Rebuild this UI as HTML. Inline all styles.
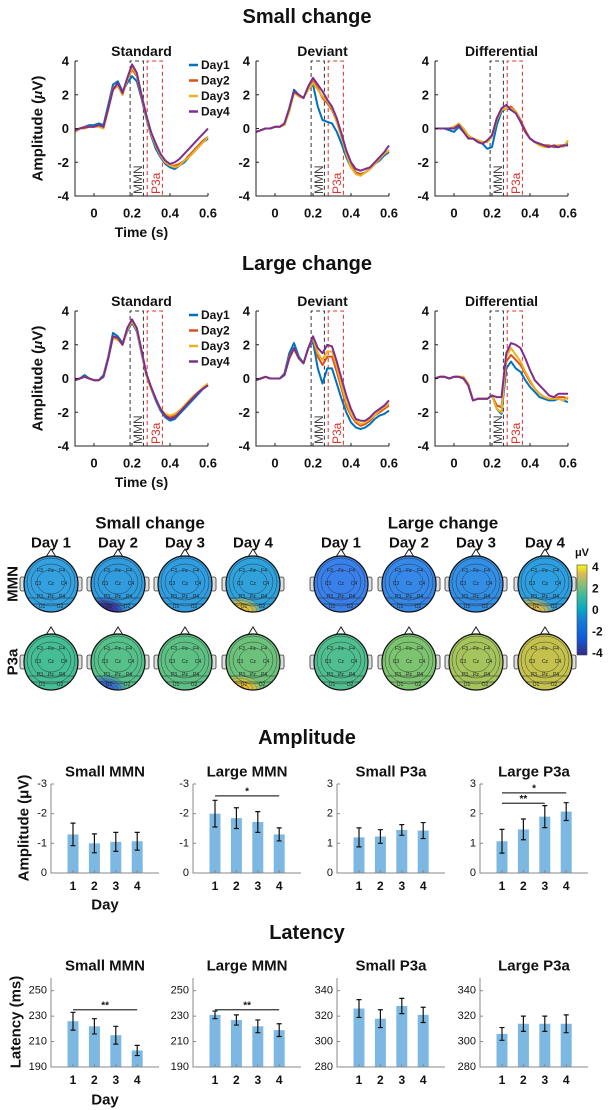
<!DOCTYPE html>
<html><head><meta charset="utf-8"><style>
html,body{margin:0;padding:0;background:#fff;}
svg{display:block;font-family:"Liberation Sans",Arial,sans-serif;}
</style></head><body>
<svg id="fig" xmlns="http://www.w3.org/2000/svg" width="614" height="1110" viewBox="0 0 614 1110">
<defs>
<linearGradient id="parula" x1="0" y1="1" x2="0" y2="0">
<stop offset="0" stop-color="#352a87"/><stop offset="0.2" stop-color="#0f5cdd"/>
<stop offset="0.4" stop-color="#1481d6"/><stop offset="0.5" stop-color="#06a7c6"/>
<stop offset="0.65" stop-color="#38b99e"/><stop offset="0.8" stop-color="#92bf73"/>
<stop offset="0.9" stop-color="#d9ba56"/><stop offset="1" stop-color="#f9fb0e"/>
</linearGradient>
</defs>
</svg>
<script>
// ---------- ERP data (t = -0.1 .. 0.6 step 0.025) ----------
const erpTimes = [-0.1,-0.075,-0.05,-0.025,0,0.025,0.05,0.075,0.1,0.125,0.15,0.175,0.2,0.225,0.25,0.275,0.3,0.325,0.35,0.375,0.4,0.425,0.45,0.475,0.5,0.525,0.55,0.575,0.6];
const dayNames = ["Day1","Day2","Day3","Day4"];
const smallStd = [
[-0.2,0,0.1,0.2,0.2,0.3,0.2,1.4,2.6,2.8,2.2,2.7,3.1,2.8,1.8,0.6,-0.4,-1.2,-1.7,-2.1,-2.3,-2.4,-2.2,-2.0,-1.7,-1.4,-1.1,-0.8,-0.6],
[-0.2,0,0.1,0.1,0.1,0.2,0.1,1.2,2.4,2.6,2.0,2.9,3.5,3.1,1.9,0.7,-0.3,-1.0,-1.6,-2.0,-2.2,-2.2,-2.1,-1.9,-1.6,-1.3,-1.0,-0.7,-0.5],
[-0.2,0,0,0.1,0.1,0.1,0,1.1,2.3,2.5,2.0,2.9,3.6,3.2,2.0,0.7,-0.3,-1.0,-1.6,-2.0,-2.2,-2.3,-2.2,-1.9,-1.7,-1.4,-1.1,-0.8,-0.5],
[-0.1,0,0.05,0.1,0.1,0.2,0.1,1.2,2.3,2.7,2.1,3.0,3.8,3.3,2.0,0.8,-0.2,-0.9,-1.5,-1.9,-2.1,-2.0,-1.8,-1.5,-1.2,-0.9,-0.6,-0.3,0.0]];
const smallDev = [
[-0.2,-0.1,0,0,0.1,0.1,0.3,1.2,2.3,2.0,1.8,2.4,2.6,1.3,0.5,0.4,0.3,-0.2,-0.9,-1.7,-2.3,-2.6,-2.7,-2.6,-2.4,-2.1,-1.9,-1.6,-1.4],
[-0.2,-0.1,0,0,0.1,0.1,0.3,1.1,2.2,2.0,1.8,2.4,2.8,2.4,1.8,1.5,1.1,0.4,-0.5,-1.5,-2.2,-2.6,-2.7,-2.6,-2.4,-2.1,-1.8,-1.5,-1.3],
[-0.2,-0.1,0,0,0.1,0.1,0.2,1.0,2.1,1.9,1.8,2.3,2.7,2.3,1.9,1.6,1.2,0.4,-0.5,-1.5,-2.3,-2.7,-2.8,-2.6,-2.4,-2.1,-1.8,-1.5,-1.3],
[-0.2,-0.1,0,0,0.1,0.1,0.3,1.2,2.2,2.0,1.8,2.5,3.0,2.6,2.2,1.7,1.3,0.6,-0.3,-1.3,-2.0,-2.4,-2.5,-2.4,-2.3,-2.0,-1.7,-1.4,-1.0]];
const smallDiff = [
[0,0,0,-0.1,-0.2,0.1,-0.2,-0.5,-0.6,-0.8,-0.9,-1.2,-1.1,0.2,1.0,1.2,1.1,1.0,0.5,-0.2,-0.6,-0.8,-0.9,-1.0,-1.0,-1.1,-1.1,-1.0,-0.9],
[0,0,0,0,0.1,0.2,-0.1,-0.5,-0.6,-0.7,-0.8,-0.8,-0.4,0.6,1.1,1.2,1.3,1.0,0.5,-0.1,-0.6,-0.8,-0.9,-1.0,-1.0,-1.1,-1.0,-1.0,-1.0],
[0,0,0,0,0.1,0.3,0,-0.4,-0.6,-0.7,-0.8,-0.8,-0.5,0.5,1.1,1.2,1.2,1.0,0.4,-0.2,-0.6,-0.8,-1.0,-1.1,-1.1,-1.0,-1.0,-1.1,-0.7],
[0,0,0,0,0,0.2,-0.2,-0.6,-0.6,-0.8,-0.9,-0.7,-0.4,0.6,1.2,1.4,1.1,0.9,0.4,-0.2,-0.6,-0.8,-0.9,-1.0,-1.1,-1.0,-1.1,-1.0,-1.0]];
const largeStd = [
[-0.1,0,0.2,0,-0.1,-0.1,0.2,1.3,2.7,2.5,2.1,2.8,3.3,2.8,1.5,0.2,-0.6,-1.3,-1.9,-2.3,-2.5,-2.4,-2.1,-1.8,-1.5,-1.2,-0.9,-0.6,-0.4],
[-0.1,0,0.1,0,-0.1,-0.1,0.1,1.2,2.5,2.4,2.0,2.9,3.4,2.9,1.6,0.3,-0.5,-1.2,-1.8,-2.2,-2.3,-2.2,-2.0,-1.7,-1.4,-1.1,-0.8,-0.6,-0.4],
[-0.1,0,0.1,0,-0.1,-0.1,0.1,1.2,2.4,2.3,2.0,2.9,3.4,2.9,1.6,0.2,-0.6,-1.2,-1.8,-2.1,-2.2,-2.1,-1.9,-1.6,-1.3,-1.0,-0.8,-0.5,-0.3],
[-0.1,0,0.1,0,-0.1,-0.1,0.1,1.2,2.5,2.4,2.0,3.0,3.5,3.0,1.7,0.3,-0.5,-1.2,-1.8,-2.2,-2.4,-2.3,-2.0,-1.7,-1.4,-1.1,-0.8,-0.6,-0.4]];
const largeDev = [
[-0.1,0,0.1,0,0,0,0.3,1.5,2.1,1.3,0.9,1.8,2.2,0.6,-0.3,0.6,0.6,-0.3,-1.2,-2.0,-2.6,-2.9,-3.0,-2.9,-2.7,-2.4,-2.2,-2.1,-1.9],
[-0.1,0,0.1,0,0,0,0.2,1.3,1.8,1.2,0.9,1.8,2.4,1.3,0.8,1.3,1.3,0.4,-0.6,-1.6,-2.2,-2.6,-2.8,-2.7,-2.5,-2.2,-2.0,-1.8,-1.6],
[-0.1,0,0.1,0,0,0,0.2,1.2,1.7,1.2,0.9,1.8,2.4,1.5,1.1,1.6,1.6,0.7,-0.4,-1.4,-2.1,-2.5,-2.7,-2.6,-2.4,-2.2,-1.9,-1.7,-1.5],
[-0.1,0,0.1,0,0,0,0.2,1.2,1.8,1.2,0.9,1.8,2.5,1.8,1.5,2.0,1.9,1.0,0.0,-1.0,-1.8,-2.4,-2.5,-2.5,-2.3,-2.0,-1.8,-1.6,-1.3]];
const largeDiff = [
[0,0.1,0.1,0,0.1,0.1,0,-0.4,-1.3,-1.2,-1.2,-1.2,-1.0,-1.8,-2.1,0.6,1.0,0.6,0.4,-0.1,-0.5,-0.8,-1.1,-1.2,-1.3,-1.3,-1.2,-1.3,-1.4],
[0,0.1,0.1,0,0.1,0.1,0,-0.4,-1.3,-1.2,-1.2,-1.2,-1.0,-1.6,-1.7,1.0,1.4,1.1,0.8,0.3,-0.2,-0.6,-0.9,-1.1,-1.2,-1.2,-1.1,-1.1,-1.2],
[0,0.1,0.1,0,0.1,0.1,0.1,-0.3,-1.3,-1.2,-1.2,-1.2,-1.0,-1.8,-2.0,1.3,1.8,1.4,1.0,0.4,-0.1,-0.6,-0.9,-1.1,-1.2,-1.2,-1.2,-1.3,-1.1],
[0,0.1,0.1,0,0.1,0.1,0,-0.4,-1.3,-1.2,-1.2,-1.2,-1.0,-1.1,-1.1,1.5,2.1,2.0,1.8,1.2,0.5,-0.1,-0.4,-0.7,-1.0,-1.1,-0.9,-0.9,-0.9]];
const erpXTicks = [0,0.2,0.4,0.6];
const erpYTicks = [-4,-2,0,2,4];
const mmnWindow = [0.19,0.26];
const p3aWindow = [0.28,0.36];

// ---------- Bar data ----------
const barDays = [1,2,3,4];
const ampSmallMMN = [-1.3,-1.0,-1.05,-1.07], ampSmallMMNErr = [0.38,0.32,0.32,0.3];
const ampLargeMMN = [-2.0,-1.85,-1.72,-1.3], ampLargeMMNErr = [0.45,0.35,0.35,0.22];
const ampSmallP3a = [1.2,1.23,1.45,1.43], ampSmallP3aErr = [0.32,0.23,0.18,0.27];
const ampLargeP3a = [1.07,1.47,1.9,2.07], ampLargeP3aErr = [0.4,0.35,0.37,0.3];
const latSmallMMN = [226,222,215,203], latSmallMMNErr = [7,6,7,4];
const latLargeMMN = [231,227,222,219], latLargeMMNErr = [3,4,5,5];
const latSmallP3a = [326,318,328,321], latSmallP3aErr = [7,7,6,6];
const latLargeP3a = [306,314,314,314], latLargeP3aErr = [5,6,6,7];
const ampMMNTicks = [0,-1,-2,-3], ampP3aTicks = [0,1,2,3];
const latMMNTicks = [190,210,230,250], latP3aTicks = [280,300,320,340];

const NS = "http://www.w3.org/2000/svg";
const svg = document.getElementById('fig');
function mk(tag, attrs, parent){const e=document.createElementNS(NS,tag);for(const k in attrs)e.setAttribute(k,attrs[k]);(parent||svg).appendChild(e);return e;}
function txt(x,y,s,size,opts,parent){opts=opts||{};const e=mk('text',{x:x,y:y,'font-size':size,'font-weight':opts.w||'bold','text-anchor':opts.a||'middle','dominant-baseline':'central',fill:opts.fill||'#111'},parent);if(opts.rot)e.setAttribute('transform','rotate('+opts.rot+' '+x+' '+y+')');e.textContent=s;return e;}
const dayColors = ["#0072BD","#D95319","#EDB120","#7E2F8E"];

// section titles
let t;
t=txt(307,17,"Small change",20);  
t=txt(307,264,"Large change",20);  

function erpPanel(L, top, title, data, name, showY, legend){
  const g = mk('g',{});
  
  
  const xs = v => L + (v+0.1)*190;
  const ys = v => top + (4-v)*16.875;
  const bottom = ys(-4), right = xs(0.6);
  t=txt((L+right)/2, top-10, title, 14, {}, g);
   
  // windows
  [[mmnWindow,'#333','MMN','#444'],[p3aWindow,'#e0302a','P3a','#e0302a']].forEach(w=>{
    const x0=xs(w[0][0]), x1=xs(w[0][1]);
    const p=mk('path',{d:`M${x0},${bottom} V${top} H${x1} V${bottom}`,fill:'none',stroke:w[1],'stroke-width':1,'stroke-dasharray':'4,3'},g);
    
    
    const lt=txt((x0+x1)/2+1, bottom-2, w[2], 12, {w:'normal',a:'start',rot:-90,fill:w[3]}, g);
    
    
  });
  // series
  data.forEach((s,di)=>{
    const d = s.map((v,i)=>(i?'L':'M')+xs(erpTimes[i]).toFixed(1)+','+ys(v).toFixed(1)).join(' ');
    const p = mk('path',{d:d,fill:'none',stroke:dayColors[di],'stroke-width':2,'stroke-linejoin':'round'},g);
    
    
  });
  // axes
  const ax = mk('path',{d:`M${L},${top} V${bottom} H${right}`,fill:'none',stroke:'#222','stroke-width':1},g);
   
  erpXTicks.forEach(v=>{
    mk('line',{x1:xs(v),x2:xs(v),y1:bottom,y2:bottom-3,stroke:'#222'},g);
    const tl=txt(xs(v), bottom+17, String(v), 13, {}, g);
     
  });
  erpYTicks.forEach(v=>{
    mk('line',{x1:L,x2:L+3,y1:ys(v),y2:ys(v),stroke:'#222'},g);
    const tl=txt(L-6, ys(v), String(v), 13, {a:'end'}, g);
     
  });
  if(showY){
    const yl = mk('text',{x:38,y:ys(0),'font-size':15,'font-weight':'bold','text-anchor':'middle','dominant-baseline':'central',transform:`rotate(-90 38 ${ys(0)})`,fill:'#111'},g);
    yl.innerHTML = 'Amplitude (<tspan font-style="italic" font-family="Liberation Serif">μ</tspan>V)';
     
    const xl = txt((L+right)/2, bottom+36, 'Time (s)', 14, {}, g);
     
  }
  if(legend){
    dayNames.forEach((n,i)=>{
      const y = top+4+i*15.5;
      mk('line',{x1:189,x2:198,y1:y,y2:y,stroke:dayColors[i],'stroke-width':2.5},g);
      const lt=txt(201,y,n,12,{a:'start'},g);
       
    });
  }
}
erpPanel(75,61,'Standard',smallStd,'small-standard-panel',true,true);
erpPanel(256,61,'Deviant',smallDev,'small-deviant-panel',false,false);
erpPanel(435,61,'Differential',smallDiff,'small-differential-panel',false,false);
erpPanel(75,311,'Standard',largeStd,'large-standard-panel',true,true);
erpPanel(256,311,'Deviant',largeDev,'large-deviant-panel',false,false);
erpPanel(435,311,'Differential',largeDiff,'large-differential-panel',false,false);

// ---------- Topomaps ----------
t=txt(150,523,'Small change',17);  
t=txt(443,523,'Large change',17);  
const topoX = [51,118,185,253,341,409,476,545];
const topoFill = [["#33a0df","#309bdd","#2f9de0","#2fa2dc","#3a80ea","#3688e8","#338fe5","#2d9ee0"],
                  ["#45bd95","#55c08a","#5ec184","#6cc27b","#50bf90","#7cc46f","#a5c45c","#c4c24c"]];
const topoBlob = {"0-1":"#3b2ea0","1-1":"#3568d8","0-3":"#f2c52c","1-3":"#efc030","0-7":"#e8c040"};
const rowY = [584,662];
["MMN","P3a"].forEach((r,ri)=>{
  t=txt(13,rowY[ri],r,15,{rot:-90});  
});
topoX.forEach((cx,i)=>{
  const lab = txt(cx,543,'Day '+((i%4)+1),15);
   
  rowY.forEach((cy,ri)=>{
    const g = mk('g',{});
    
    
    const cid='clip'+i+'_'+ri;
    const cp=mk('clipPath',{id:cid},g); mk('ellipse',{cx:cx,cy:cy,rx:27,ry:28},cp);
    mk('path',{d:`M${cx-5},${cy-27} L${cx},${cy-35} L${cx+5},${cy-27}`,fill:'#fff',stroke:'#222','stroke-width':1},g);
    mk('rect',{x:cx-31,y:cy-7,width:5,height:14,rx:2,fill:'#ddd',stroke:'#333','stroke-width':0.8},g);
    mk('rect',{x:cx+26,y:cy-7,width:5,height:14,rx:2,fill:'#ddd',stroke:'#333','stroke-width':0.8},g);
    mk('ellipse',{cx:cx,cy:cy,rx:27,ry:28,fill:topoFill[ri][i]},g);
    const cg = mk('g',{'clip-path':`url(#${cid})`},g);
    const b = topoBlob[ri+'-'+i];
    if(b){
      for(let k=0;k<5;k++) mk('ellipse',{cx:cx-14,cy:cy+28,rx:22-k*4,ry:14-k*2.5,fill:b,opacity:0.35+k*0.13,stroke:'#222','stroke-width':0.4},cg);
    }
    [[20,18],[14,12],[24,24]].forEach(c=>mk('ellipse',{cx:cx,cy:cy-2,rx:c[0],ry:c[1],fill:'none',stroke:'#222','stroke-width':0.5,opacity:0.8},cg));
    mk('line',{x1:cx-27,x2:cx+27,y1:cy+14,y2:cy+14,stroke:'#222','stroke-width':0.5},cg);
    mk('line',{x1:cx-27,x2:cx+27,y1:cy+20,y2:cy+20,stroke:'#222','stroke-width':0.5},cg);
    [['F3',-11,-13],['Fz',0,-13],['F4',11,-13],['C3',-13,0],['Cz',0,0],['C4',13,0],['P3',-11,13],['Pz',0,13],['P4',11,13],['O1',-9,23],['O2',9,23]].forEach(e=>{
      mk('text',{x:cx+e[1],y:cy+e[2],'font-size':5,'text-anchor':'middle','dominant-baseline':'central',fill:'#222'},cg).textContent=e[0];
    });
    mk('ellipse',{cx:cx,cy:cy,rx:27,ry:28,fill:'none',stroke:'#111','stroke-width':1.2},g);
  });
});
const cb = mk('rect',{x:577,y:565,width:10,height:90,fill:'url(#parula)',stroke:'#444','stroke-width':0.6});
 
t=txt(582,553,'μV',11,{});  
[4,2,0,-2,-4].forEach((v,i)=>{t=txt(592,567+i*21.5,String(v),12,{a:'start'});  });

// ---------- Bar charts ----------
t=txt(307,738,'Amplitude',20);  
t=txt(307,933,'Latency',20);  
function barPanel(L, top, bottom, title, vals, errs, ticks, dmin, dmax, name, sig){
  const g = mk('g',{});
  
  
  const W = 108;
  const ys = v => bottom - (v-dmin)/(dmax-dmin)*(bottom-top);
  const xs = d => L + 22 + (d-1)*21.4;
  t=txt(L+W/2, top-12, title, 15, {}, g);  
  vals.forEach((v,i)=>{
    const x = xs(barDays[i]);
    const y0 = ys(dmin), y1 = ys(v);
    const r = mk('rect',{x:x-5.5,y:Math.min(y0,y1),width:11,height:Math.abs(y0-y1),fill:'#7db8e2'},g);
    
    
    const sign = Math.sign(v-dmin)||1;
    const ya = ys(v - errs[i]*(dmax>dmin?1:1)), yb = ys(v + errs[i]);
    const eb = mk('path',{d:`M${x},${ya} V${yb} M${x-2.5},${ya} H${x+2.5} M${x-2.5},${yb} H${x+2.5}`,stroke:'#111','stroke-width':1.2,fill:'none'},g);
    
    
  });
  const ax = mk('path',{d:`M${L},${top} V${bottom} H${L+W}`,fill:'none',stroke:'#888','stroke-width':1},g);
   
  ticks.forEach(v=>{
    mk('line',{x1:L,x2:L+3,y1:ys(v),y2:ys(v),stroke:'#888'},g);
    const tl=txt(L-4, ys(v), String(v), 11, {a:'end',w:'normal'}, g);
     
  });
  barDays.forEach(d=>{
    mk('line',{x1:xs(d),x2:xs(d),y1:bottom,y2:bottom-3,stroke:'#888'},g);
    const tl=txt(xs(d), bottom+13, String(d), 12, {}, g);
     
  });
  (sig||[]).forEach(s=>{
    const y = ys(s[2]);
    const sl = mk('line',{x1:xs(s[0]),x2:xs(s[1]),y1:y,y2:y,stroke:'#333','stroke-width':1.3},g);
     
    const st = txt((xs(s[0])+xs(s[1]))/2, y-4, s[3], 10, {}, g);
     
  });
  return g;
}
const bx = [51,193,337,480];
barPanel(bx[0],784,873,'Small MMN',ampSmallMMN,ampSmallMMNErr,ampMMNTicks,0,-3,'amp-small-mmn');
barPanel(bx[1],784,873,'Large MMN',ampLargeMMN,ampLargeMMNErr,ampMMNTicks,0,-3,'amp-large-mmn',[[1,4,-2.6,'*']]);
barPanel(bx[2],784,873,'Small P3a',ampSmallP3a,ampSmallP3aErr,ampP3aTicks,0,3,'amp-small-p3a');
barPanel(bx[3],784,873,'Large P3a',ampLargeP3a,ampLargeP3aErr,ampP3aTicks,0,3,'amp-large-p3a',[[1,3,2.35,'**'],[1,4,2.7,'*']]);
barPanel(bx[0],978,1067,'Small MMN',latSmallMMN,latSmallMMNErr,latMMNTicks,190,260,'lat-small-mmn',[[1,4,235,'**']]);
barPanel(bx[1],978,1067,'Large MMN',latLargeMMN,latLargeMMNErr,latMMNTicks,190,260,'lat-large-mmn',[[1,4,235,'**']]);
barPanel(bx[2],978,1067,'Small P3a',latSmallP3a,latSmallP3aErr,latP3aTicks,280,350,'lat-small-p3a');
barPanel(bx[3],978,1067,'Large P3a',latLargeP3a,latLargeP3aErr,latP3aTicks,280,350,'lat-large-p3a');
let yl = mk('text',{x:24,y:828,'font-size':15,'font-weight':'bold','text-anchor':'middle','dominant-baseline':'central',transform:'rotate(-90 24 828)',fill:'#111'});
yl.textContent='Amplitude (μV)';
 
yl = mk('text',{x:16,y:1022,'font-size':15,'font-weight':'bold','text-anchor':'middle','dominant-baseline':'central',transform:'rotate(-90 16 1022)',fill:'#111'});
yl.textContent='Latency (ms)';
 
t=txt(105,905,'Day',15);  
t=txt(105,1100,'Day',15);  
</script>
</body></html>
